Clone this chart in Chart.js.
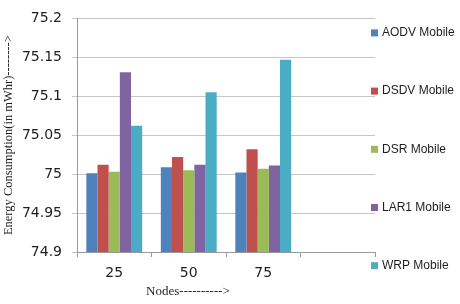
<!DOCTYPE html>
<html>
<head>
<meta charset="utf-8">
<script src="https://cdn.jsdelivr.net/npm/chart.js@4"></script>
<style>
  html, body { margin: 0; background: #fff; }
  #wrap { width: 460px; height: 304px; position: relative; }
</style>
</head>
<body>
<div id="wrap"><canvas id="chart"></canvas></div>
<script>
// categories on the x axis (last slot is left empty in the original)
const categories = ['25', '50', '75', ''];

const seriesNames = ['AODV Mobile', 'DSDV Mobile', 'DSR Mobile', 'LAR1 Mobile', 'WRP Mobile'];
const aodvValues = [75.001, 75.009, 75.002, null];
const dsdvValues = [75.012, 75.022, 75.032, null];
const dsrValues  = [75.003, 75.005, 75.007, null];
const lar1Values = [75.131, 75.012, 75.011, null];
const wrpValues  = [75.062, 75.105, 75.147, null];

const yMin = 74.9;
const yMax = 75.2;
const yStep = 0.05;

const colors = ['#4F81BD', '#C0504D', '#9BBB59', '#8064A2', '#4BACC6'];
const allValues = [aodvValues, dsdvValues, dsrValues, lar1Values, wrpValues];

const gridColor = '#c6c6c6';
const textColor = '#1e1e1e';

// legend on the right, spread over the plot height like the original
const sideLegend = {
    id: 'sideLegend',
    afterDraw(chart) {
        const ctx = chart.ctx;
        const area = chart.chartArea;
        ctx.save();
        ctx.font = '12px "Liberation Sans", Arial, sans-serif';
        ctx.textBaseline = 'middle';
        ctx.textAlign = 'left';
        chart.data.datasets.forEach((ds, i) => {
            const y = area.top + 14 + i * 58.2;
            ctx.fillStyle = ds.backgroundColor;
            ctx.fillRect(area.right - 4, y - 3, 7, 7);
            ctx.fillStyle = textColor;
            ctx.fillText(ds.label, area.right + 7, y + 0.5);
        });

        // x axis title sits under the used categories, not the whole axis
        ctx.font = '13px "Liberation Serif", "Times New Roman", serif';
        ctx.textAlign = 'center';
        ctx.fillText('Nodes---------->', 188, 292);
        ctx.restore();
    }
};

const ctx = document.getElementById('chart').getContext('2d');
new Chart(ctx, {
    type: 'bar',
    data: {
        labels: categories,
        datasets: seriesNames.map((name, i) => ({
            label: name,
            data: allValues[i],
            backgroundColor: colors[i],
            borderWidth: 0,
            categoryPercentage: 0.75,
            barPercentage: 1.0
        }))
    },
    options: {
        responsive: true,
        maintainAspectRatio: false,
        animation: false,
        layout: { padding: { top: 12, right: 85, left: 0, bottom: 0 } },
        plugins: {
            legend: { display: false },
            tooltip: { enabled: false }
        },
        scales: {
            x: {
                afterFit: (s) => { s.height = 52; },
                grid: {
                    offset: true,
                    drawOnChartArea: false,
                    drawTicks: true,
                    tickLength: 5,
                    color: '#9a9a9a'
                },
                border: { color: '#9a9a9a' },
                ticks: {
                    padding: 8,
                    color: textColor,
                    font: { family: '"DejaVu Sans", sans-serif', size: 14 }
                }
            },
            y: {
                min: yMin,
                max: yMax,
                afterFit: (s) => { s.width = 77; },
                grid: {
                    color: gridColor,
                    tickLength: 5
                },
                border: { color: '#9a9a9a' },
                ticks: {
                    stepSize: yStep,
                    padding: 10,
                    color: textColor,
                    font: { family: '"DejaVu Sans", sans-serif', size: 14 },
                    callback: (v) => String(+v.toFixed(2))
                },
                title: {
                    display: true,
                    text: 'Energy Consumption(in mWhr)-------->',
                    color: textColor,
                    padding: { top: 1, bottom: 0 },
                    font: { family: '"Liberation Serif", "Times New Roman", serif', size: 12.5 }
                }
            }
        }
    },
    plugins: [sideLegend]
});
</script>
</body>
</html>
